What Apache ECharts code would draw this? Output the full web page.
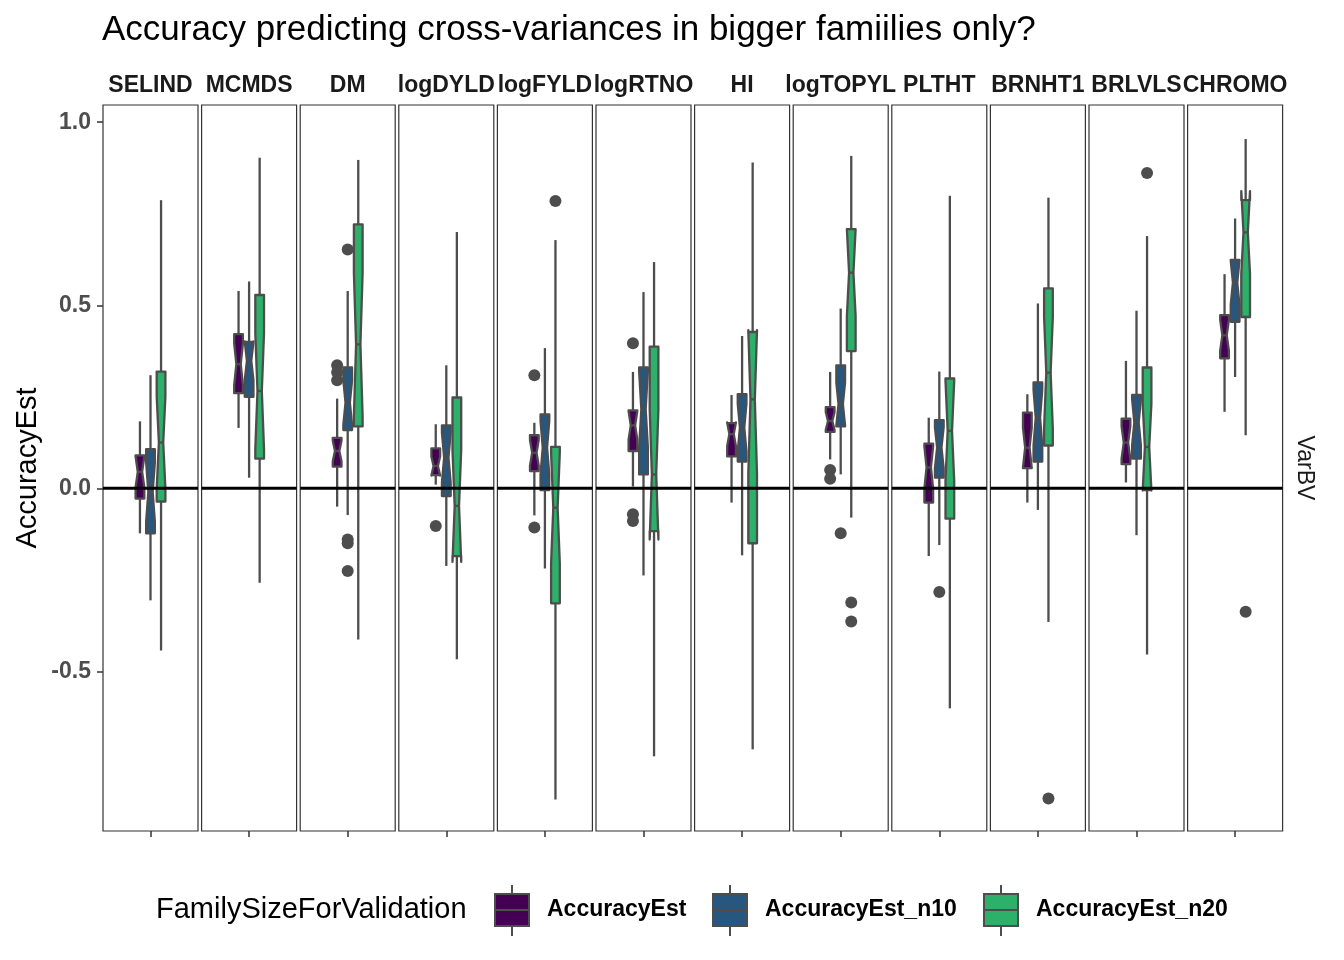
<!DOCTYPE html>
<html>
<head>
<meta charset="utf-8">
<script src="https://cdn.jsdelivr.net/npm/echarts@6/dist/echarts.min.js"></script>
<style>
  html, body { margin: 0; background: #fff; }
  #chart { width: 1344px; height: 960px; }
</style>
</head>
<body>
<div id="chart"></div>
<script>
// facets (VarBV traits)
const traits = ['SELIND', 'MCMDS', 'DM', 'logDYLD', 'logFYLD', 'logRTNO', 'HI', 'logTOPYL', 'PLTHT', 'BRNHT1', 'BRLVLS', 'CHROMO'];
const groups = ['AccuracyEst', 'AccuracyEst_n10', 'AccuracyEst_n20'];
const groupColors = ['#440154', '#27577f', '#2db16a'];

// [lower whisker, Q1, median, Q3, upper whisker]
const boxEst = [
  [-0.123, -0.028, 0.045, 0.090, 0.183], [0.165, 0.260, 0.339, 0.421, 0.539], [-0.050, 0.059, 0.102, 0.138, 0.245],
  [0.010, 0.036, 0.061, 0.109, 0.175], [-0.074, 0.047, 0.097, 0.145, 0.179], [0.005, 0.102, 0.172, 0.213, 0.318],
  [-0.039, 0.087, 0.148, 0.178, 0.255], [0.079, 0.154, 0.184, 0.222, 0.318], [-0.185, -0.039, 0.057, 0.122, 0.193],
  [-0.039, 0.055, 0.111, 0.207, 0.257], [0.016, 0.066, 0.125, 0.190, 0.348], [0.209, 0.355, 0.418, 0.473, 0.585]
];
const boxN10 = [
  [-0.306, -0.123, -0.010, 0.107, 0.309], [0.029, 0.250, 0.348, 0.400, 0.565], [-0.073, 0.159, 0.234, 0.330, 0.539],
  [-0.212, -0.021, 0.084, 0.172, 0.336], [-0.219, -0.005, 0.111, 0.202, 0.383], [-0.238, 0.038, 0.216, 0.330, 0.536],
  [-0.183, 0.073, 0.166, 0.257, 0.416], [0.038, 0.169, 0.230, 0.336, 0.491], [-0.155, 0.029, 0.111, 0.186, 0.319],
  [-0.059, 0.073, 0.193, 0.289, 0.505], [-0.128, 0.081, 0.180, 0.255, 0.485], [0.304, 0.455, 0.562, 0.624, 0.737]
];
const boxN20 = [
  [-0.443, -0.036, 0.125, 0.319, 0.787], [-0.258, 0.081, 0.266, 0.528, 0.903], [-0.413, 0.169, 0.393, 0.721, 0.897],
  [-0.467, -0.185, -0.048, 0.248, 0.700], [-0.850, -0.314, -0.053, 0.113, 0.678], [-0.732, -0.117, 0.038, 0.387, 0.618],
  [-0.713, -0.150, 0.243, 0.427, 0.890], [-0.080, 0.375, 0.589, 0.708, 0.908], [-0.601, -0.083, 0.157, 0.300, 0.799],
  [-0.365, 0.117, 0.316, 0.546, 0.794], [-0.454, -0.005, 0.113, 0.330, 0.689], [0.145, 0.468, 0.699, 0.787, 0.954]
];

// notch limits [lower, upper]
const notchEst = [[0.003, 0.087], [0.282, 0.396], [0.074, 0.130], [0.035, 0.087], [0.062, 0.132], [0.133, 0.211],
  [0.116, 0.180], [0.160, 0.208], [0.000, 0.114], [0.057, 0.165], [0.081, 0.169], [0.376, 0.460]];
const notchN10 = [[-0.091, 0.071], [0.295, 0.401], [0.173, 0.295], [0.016, 0.152], [0.038, 0.184], [0.113, 0.319],
  [0.101, 0.231], [0.171, 0.289], [0.055, 0.167], [0.117, 0.269], [0.118, 0.242], [0.502, 0.622]];
const notchN20 = [[-0.001, 0.251], [0.108, 0.424], [0.198, 0.588], [-0.201, 0.105], [-0.204, 0.098], [-0.140, 0.216],
  [0.039, 0.432], [0.471, 0.707], [0.021, 0.293], [0.164, 0.468], [-0.006, 0.232], [0.586, 0.812]];

// outliers [facet index, value]
const outEst = [[2, 0.336], [2, 0.317], [2, 0.295], [3, -0.103], [4, 0.309], [4, -0.107],
  [5, 0.396], [5, -0.071], [5, -0.089], [7, 0.050], [7, 0.026]];
const outN10 = [[2, 0.652], [2, -0.140], [2, -0.150], [2, -0.226], [7, -0.123], [8, -0.283]];
const outN20 = [[4, 0.785], [7, -0.312], [7, -0.364], [9, -0.847], [10, 0.861], [11, -0.337]];

const yTicks = [-0.5, 0, 0.5, 1];

const boxes = [boxEst, boxN10, boxN20];
const notches = [notchEst, notchN10, notchN20];
const outliers = [outEst, outN10, outN20];

// layout
const FONT = 'Liberation Sans, Arial, sans-serif';
const panelLeft = 103, panelStep = 98.6, panelW = 95, panelTop = 105, panelH = 726;
const dodge = [-0.1333, 0, 0.1333];
const halfW = 0.055;
const lineCol = '#4d4d4d';
const lw = 2.3;

const chart = echarts.init(document.getElementById('chart'));

const grids = [], xAxes = [], yAxes = [], series = [], graphics = [];

traits.forEach((t, i) => {
  const left = panelLeft + i * panelStep;
  grids.push({ left: left, top: panelTop, width: panelW, height: panelH, show: true,
    borderColor: '#333', borderWidth: 1.2, containLabel: false });
  xAxes.push({
    gridIndex: i, type: 'value', min: 0.4, max: 1.6,
    axisLine: { show: false, onZero: false }, splitLine: { show: false },
    axisLabel: { show: false },
    axisTick: { show: true, customValues: [1], length: 6, lineStyle: { color: '#333', width: 1.5 } }
  });
  yAxes.push({
    gridIndex: i, type: 'value', min: -0.936, max: 1.047, show: i === 0,
    axisLine: { show: false, onZero: false }, splitLine: { show: false },
    axisTick: { show: true, customValues: yTicks, length: 6, lineStyle: { color: '#333', width: 1.5 } },
    axisLabel: { customValues: yTicks, formatter: v => v.toFixed(1), margin: 12,
      fontFamily: FONT, fontWeight: 'bold', fontSize: 23, color: '#4d4d4d' }
  });

  // strip label
  graphics.push({ type: 'text', x: left + panelW / 2, y: 86,
    style: { text: t, fontFamily: FONT, fontWeight: 'bold', fontSize: 23, fill: '#1a1a1a',
      align: 'center', verticalAlign: 'middle' } });

  groups.forEach((g, k) => {
    const xPos = 1 + dodge[k];
    // outliers first
    series.push({
      type: 'scatter', name: g, xAxisIndex: i, yAxisIndex: i, z: 2,
      symbolSize: 12, itemStyle: { color: lineCol, opacity: 1 },
      data: outliers[k].filter(d => d[0] === i).map(d => [xPos, d[1]]),
      silent: true
    });
    const b = boxes[k][i], n = notches[k][i];
    series.push({
      type: 'custom', name: g, xAxisIndex: i, yAxisIndex: i, z: 3, silent: true,
      data: [[xPos, b[0], b[1], b[2], b[3], b[4], n[0], n[1]]],
      renderItem: (params, api) => {
        const x = api.value(0);
        const py = idx => api.coord([x, api.value(idx)])[1];
        const cx = api.coord([x, 0])[0];
        const hw = api.size([halfW, 0])[0];
        const yLow = py(1), yQ1 = py(2), yMed = py(3), yQ3 = py(4), yHigh = py(5), yNlo = py(6), yNhi = py(7);
        const ls = { stroke: lineCol, lineWidth: lw };
        return {
          type: 'group',
          children: [
            { type: 'line', shape: { x1: cx, y1: yQ3, x2: cx, y2: yHigh }, style: ls },
            { type: 'line', shape: { x1: cx, y1: yQ1, x2: cx, y2: yLow }, style: ls },
            { type: 'polygon', shape: { points: [
                [cx - hw, yQ1], [cx - hw, yNlo], [cx - hw / 2, yMed], [cx - hw, yNhi], [cx - hw, yQ3],
                [cx + hw, yQ3], [cx + hw, yNhi], [cx + hw / 2, yMed], [cx + hw, yNlo], [cx + hw, yQ1]
              ] },
              style: { fill: groupColors[k], stroke: lineCol, lineWidth: lw, lineJoin: 'round' } },
            { type: 'line', shape: { x1: cx - hw / 2, y1: yMed, x2: cx + hw / 2, y2: yMed },
              style: { stroke: lineCol, lineWidth: lw } }
          ]
        };
      }
    });
  });

  // zero reference line on top
  series.push({
    type: 'custom', xAxisIndex: i, yAxisIndex: i, z: 10, silent: true,
    data: [[1, 0]],
    renderItem: (params, api) => {
      const y = api.coord([1, api.value(1)])[1];
      const cs = params.coordSys;
      return { type: 'line', shape: { x1: cs.x, y1: y, x2: cs.x + cs.width, y2: y },
        style: { stroke: '#000', lineWidth: 3 } };
    }
  });
});

// axis title and right strip
graphics.push({ type: 'text', x: 28, y: panelTop + panelH / 2, rotation: Math.PI / 2,
  style: { text: 'AccuracyEst', fontFamily: FONT, fontSize: 29, fill: '#000', align: 'center', verticalAlign: 'middle' } });
graphics.push({ type: 'text', x: 1304, y: panelTop + panelH / 2, rotation: -Math.PI / 2,
  style: { text: 'VarBV', fontFamily: FONT, fontSize: 23, fill: '#1a1a1a', align: 'center', verticalAlign: 'middle' } });

// legend
const legY = 910;
graphics.push({ type: 'text', x: 156, y: legY,
  style: { text: 'FamilySizeForValidation', fontFamily: FONT, fontSize: 29, fill: '#000', align: 'left', verticalAlign: 'middle' } });
const legLabelX = [547, 765, 1036];
groups.forEach((g, k) => {
  const kx = legLabelX[k] - 52, kw = 34;
  graphics.push({ type: 'line', shape: { x1: kx + kw / 2, y1: legY - 25, x2: kx + kw / 2, y2: legY + 26 },
    style: { stroke: lineCol, lineWidth: 2 } });
  graphics.push({ type: 'rect', shape: { x: kx, y: legY - 16, width: kw, height: 32 },
    style: { fill: groupColors[k], stroke: lineCol, lineWidth: 2 } });
  graphics.push({ type: 'line', shape: { x1: kx, y1: legY, x2: kx + kw, y2: legY },
    style: { stroke: lineCol, lineWidth: 2 } });
  graphics.push({ type: 'text', x: legLabelX[k], y: legY,
    style: { text: g, fontFamily: FONT, fontWeight: 'bold', fontSize: 23, fill: '#000', align: 'left', verticalAlign: 'middle' } });
});

chart.setOption({
  backgroundColor: '#fff',
  animation: false,
  title: {
    text: 'Accuracy predicting cross-variances in bigger famiilies only?',
    left: 102, top: 13, padding: 0,
    textStyle: { fontFamily: FONT, fontSize: 35, fontWeight: 'normal', color: '#000' }
  },
  grid: grids,
  xAxis: xAxes,
  yAxis: yAxes,
  series: series,
  graphic: { elements: graphics }
});
</script>
</body>
</html>
